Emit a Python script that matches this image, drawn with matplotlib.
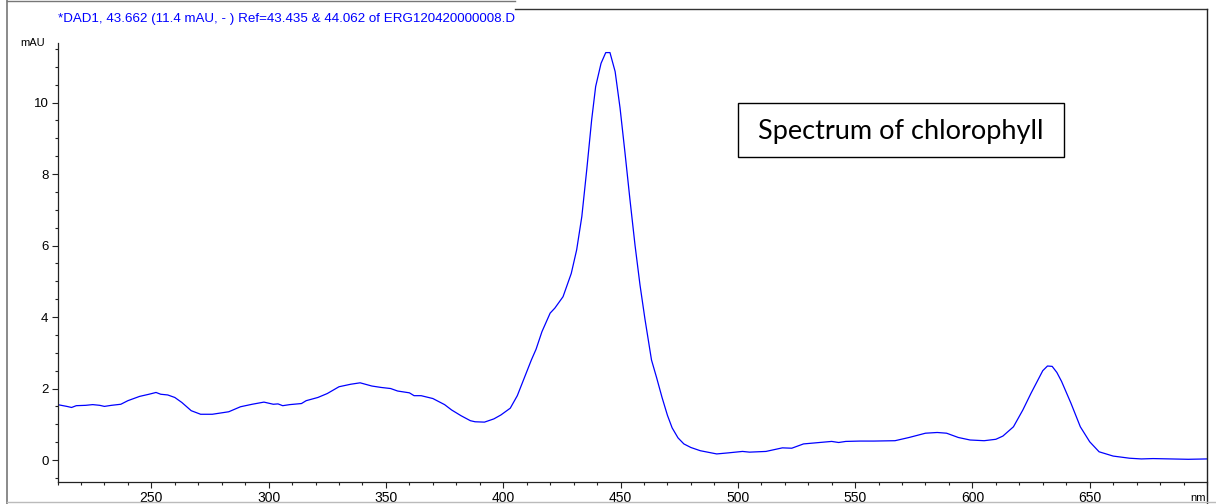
import numpy as np
import matplotlib
matplotlib.use("Agg")
import matplotlib.pyplot as plt
from matplotlib.lines import Line2D
from matplotlib.patches import Rectangle

plt.rcParams['font.family'] = ['Liberation Sans', 'DejaVu Sans']

# Spectrum (wavelength in nm, absorbance in mAU)
wavelength = [210, 214, 216, 218, 222, 225, 228, 230, 233, 237, 240, 245, 249, 252, 254,
              257, 260, 263, 267, 271, 276, 280, 283, 288, 293, 298, 302, 304, 306, 309,
              314, 316, 321, 325, 330, 335, 339, 344, 348, 352, 355, 360, 362, 365, 370,
              375, 378, 382, 386, 388, 392, 396, 399, 403, 406, 409, 412, 414, 416.5, 420,
              422, 425.5, 429, 431.3, 433.5, 435.6, 437.7, 439.4, 441.7, 443.7, 445.5, 447.7,
              449.8, 451.9, 454, 456.2, 458.3, 460.4, 463.2, 465.4, 467.7, 470, 472, 474.5,
              477, 480, 484, 491, 496, 502, 505, 512, 519, 523, 528, 535, 540, 543, 546,
              552, 558, 567, 573, 580, 585, 589, 594, 599, 605, 610, 613, 617.5, 621.5, 625,
              628, 630, 632, 634, 636, 638, 642, 646, 650, 654, 660, 667, 672, 677, 685,
              692, 700]
absorbance = [1.55, 1.50, 1.47, 1.52, 1.53, 1.55, 1.53, 1.50, 1.53, 1.56, 1.66, 1.78, 1.84, 1.89, 1.84,
              1.82, 1.75, 1.61, 1.38, 1.28, 1.28, 1.32, 1.35, 1.49, 1.56, 1.62, 1.56, 1.57, 1.52, 1.55,
              1.58, 1.66, 1.75, 1.86, 2.05, 2.12, 2.16, 2.07, 2.03, 2.00, 1.93, 1.88, 1.80, 1.80, 1.72,
              1.55, 1.40, 1.24, 1.10, 1.07, 1.06, 1.15, 1.26, 1.45, 1.80, 2.30, 2.80, 3.10, 3.59, 4.11,
              4.25, 4.57, 5.22, 5.88, 6.81, 8.12, 9.52, 10.45, 11.10, 11.40, 11.40, 10.87,
              9.85, 8.60, 7.30, 6.00, 4.90, 3.95, 2.80, 2.30, 1.75, 1.25, 0.90, 0.62,
              0.45, 0.35, 0.26, 0.17, 0.20, 0.24, 0.22, 0.24, 0.34, 0.33, 0.45, 0.49, 0.52, 0.49, 0.52,
              0.53, 0.53, 0.54, 0.63, 0.75, 0.77, 0.75, 0.63, 0.56, 0.54, 0.58, 0.67, 0.93, 1.40, 1.87,
              2.25, 2.50, 2.63, 2.62, 2.45, 2.20, 1.59, 0.93, 0.51, 0.23, 0.11, 0.05, 0.03, 0.04, 0.03,
              0.02, 0.03]

title_text = "*DAD1, 43.662 (11.4 mAU, - ) Ref=43.435 & 44.062 of ERG120420000008.D"
box_text = "Spectrum of chlorophyll"

W, H = 1216, 504
fig = plt.figure(figsize=(W / 100, H / 100), dpi=100)
fig.patch.set_facecolor("white")

# axes placed in pixel units
left, right, top, bottom = 57.5, 1207, 43.3, 481.7
ax = fig.add_axes([left / W, 1 - bottom / H, (right - left) / W, (bottom - top) / H])

ax.plot(wavelength, absorbance, color="#0000ff", lw=0.9)

ax.set_xlim(210, 700)
ax.set_ylim(-0.607, 11.66)
ax.set_xticks(np.arange(250, 700, 50))
ax.set_xticks(np.arange(210, 701, 10), minor=True)
ax.set_yticks(np.arange(0, 11, 2))
ax.set_yticks(np.arange(-0.5, 11.7, 0.5), minor=True)

for s in ["top", "right"]:
    ax.spines[s].set_visible(False)
for s in ["left", "bottom"]:
    ax.spines[s].set_color("#222222")
    ax.spines[s].set_linewidth(0.9)

ax.tick_params(which="major", direction="out", length=4.5, width=0.8, color="#222222",
               labelsize=10, pad=2)
ax.tick_params(which="minor", direction="out", length=2.2, width=0.8, color="#222222")
ax.tick_params(axis="y", labelsize=9.5)

# text around the axes
fig.text(58 / W, 1 - 19 / H, title_text, color="#0000ff", fontsize=9.6, va="center", ha="left")
fig.text(33 / W, 1 - 43 / H, "mAU", fontsize=8, va="center", ha="center")
fig.text(1198 / W, 1 - 498 / H, "nm", fontsize=8, va="center", ha="center")

# annotation box
fig.patches.append(Rectangle((738 / W, 1 - 157 / H), (1064 - 738) / W, (157 - 103) / H,
                             transform=fig.transFigure, fill=False, edgecolor="black", lw=1.0))
fig.text(901 / W, 1 - 131 / H, box_text, fontsize=19.5, family=["Lato", "DejaVu Sans"],
         va="center", ha="center")

# outer frame of the screenshot
def fline(x0, y0, x1, y1, color, lw):
    fig.add_artist(Line2D([x0 / W, x1 / W], [1 - y0 / H, 1 - y1 / H], color=color, lw=lw,
                          transform=fig.transFigure))

fline(7, 0, 7, 504, "#777777", 1.2)
fline(7, 1, 515, 1, "#777777", 1.0)
fline(515, 9, 1207, 9, "#333333", 1.0)
fline(1207, 9, 1207, 504, "#222222", 1.0)
fline(7, 502, 1216, 502, "#bbbbbb", 1.0)

fig.savefig("out.png", dpi=100)
